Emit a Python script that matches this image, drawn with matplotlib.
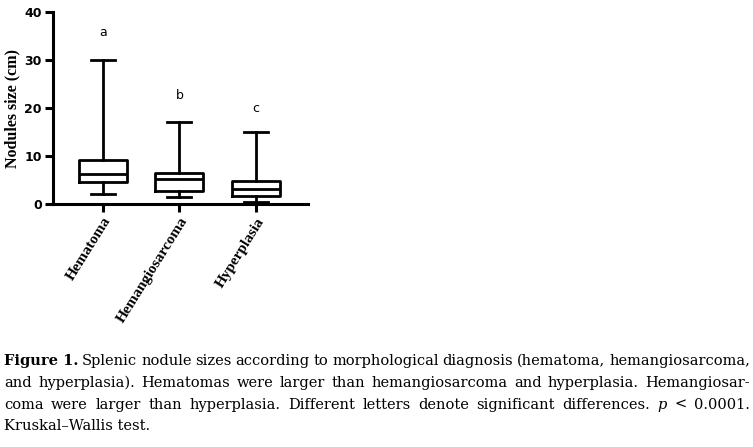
import matplotlib
matplotlib.use("Agg")
import matplotlib.pyplot as plt

# Data (cm)
groups = ["Hematoma", "Hemangiosarcoma", "Hyperplasia"]
whisker_low = [2.0, 1.4, 0.35]
q1 = [4.6, 2.7, 1.7]
median = [6.2, 5.2, 3.1]
q3 = [9.1, 6.4, 4.8]
whisker_high = [30.0, 17.0, 15.0]
letters = ["a", "b", "c"]
letter_y = [35.7, 22.6, 19.9]

caption_lines = [
    [("Figure 1.", "bold"), ("Splenic", "normal"), ("nodule", "normal"), ("sizes", "normal"),
     ("according", "normal"), ("to", "normal"), ("morphological", "normal"), ("diagnosis", "normal"),
     ("(hematoma,", "normal"), ("hemangiosarcoma,", "normal")],
    [("and", "normal"), ("hyperplasia).", "normal"), ("Hematomas", "normal"), ("were", "normal"),
     ("larger", "normal"), ("than", "normal"), ("hemangiosarcoma", "normal"), ("and", "normal"),
     ("hyperplasia.", "normal"), ("Hemangiosar-", "normal")],
    [("coma", "normal"), ("were", "normal"), ("larger", "normal"), ("than", "normal"),
     ("hyperplasia.", "normal"), ("Different", "normal"), ("letters", "normal"), ("denote", "normal"),
     ("significant", "normal"), ("differences.", "normal"), ("p", "italic"), ("<", "normal"),
     ("0.0001.", "normal")],
    [("Kruskal\u2013Wallis test.", "normal")],
]
caption_baselines = [365, 387, 409, 430]

W, H = 753, 447
fig = plt.figure(figsize=(W / 100, H / 100), dpi=100)
ax = fig.add_axes([53 / W, 1 - 204 / H, (308 - 53) / W, (204 - 12) / H])

pos = [1, 2, 3]
stats = []
for i in range(3):
    stats.append({"whislo": whisker_low[i], "q1": q1[i], "med": median[i],
                  "q3": q3[i], "whishi": whisker_high[i], "fliers": [],
                  "label": groups[i]})
lw = 2.0
ax.bxp(stats, positions=pos, widths=0.63, showfliers=False,
       boxprops=dict(color="black", linewidth=lw),
       medianprops=dict(color="black", linewidth=lw),
       whiskerprops=dict(color="black", linewidth=lw),
       capprops=dict(color="black", linewidth=lw),
       capwidths=0.31)

for i in range(3):
    ax.text(pos[i], letter_y[i], letters[i], ha="center", va="center",
            fontsize=9, family="DejaVu Sans")

ax.set_xlim(0.35, 3.68)
ax.set_ylim(0, 40)
ax.set_yticks([0, 10, 20, 30, 40])
ax.spines["top"].set_visible(False)
ax.spines["right"].set_visible(False)
for s in ["left", "bottom"]:
    ax.spines[s].set_linewidth(2.2)
ax.tick_params(axis="both", width=2.2, length=6, direction="out", pad=2)
for t in ax.get_yticklabels():
    t.set_fontweight("bold")
    t.set_fontsize(9)
    t.set_family("DejaVu Sans")
ax.set_xticks(pos)
ax.set_xticklabels(groups, rotation=58, ha="right", rotation_mode="anchor",
                   fontsize=11, fontweight="bold", family="Liberation Serif")
ax.set_ylabel("Nodules size (cm)", fontsize=11.5, fontweight="bold",
              family="Liberation Serif", labelpad=3)

# justified caption
renderer = fig.canvas.get_renderer()
left_px, right_px = 4, 750
fs = 10.5
for li, line in enumerate(caption_lines):
    y = 1 - caption_baselines[li] / H
    texts = []
    for word, style in line:
        kw = dict(fontsize=fs, family="DejaVu Serif", va="baseline", ha="left")
        if style == "bold":
            kw["fontweight"] = "bold"
        elif style == "italic":
            kw["fontstyle"] = "italic"
        texts.append(fig.text(0, y, word, **kw))
    widths = [t.get_window_extent(renderer).width for t in texts]
    if li < len(caption_lines) - 1 and len(texts) > 1:
        gap = (right_px - left_px - sum(widths)) / (len(texts) - 1)
    else:
        gap = 4
    x = left_px
    for t, w in zip(texts, widths):
        t.set_x(x / W)
        x += w + gap

fig.savefig("out.png", dpi=100)
